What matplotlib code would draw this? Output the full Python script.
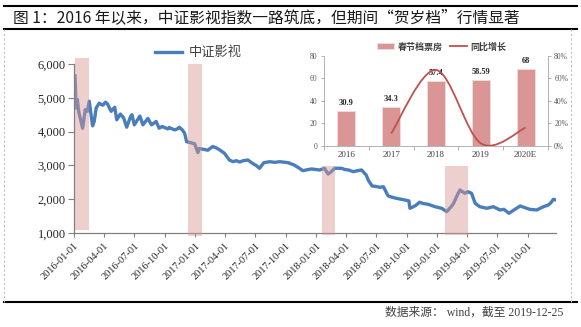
import matplotlib
matplotlib.use("Agg")
import matplotlib.pyplot as plt
import matplotlib.dates as mdates
import numpy as np
import pandas as pd
from matplotlib.patches import Rectangle
from matplotlib.lines import Line2D
from matplotlib.path import Path
from matplotlib.patches import PathPatch
from matplotlib.ticker import FuncFormatter, PercentFormatter

SERIF_CJK = ["Liberation Serif", "Noto Sans CJK SC"]
CJK = ["Noto Sans CJK SC", "DejaVu Sans"]
plt.rcParams["font.family"] = SERIF_CJK

# ---- 中证影视指数 (selected closes) ----
index_dates = [
    "2016-01-04", "2016-01-05", "2016-01-07", "2016-01-11", "2016-01-15", "2016-01-27",
    "2016-02-04", "2016-02-10", "2016-02-16", "2016-02-26", "2016-03-02", "2016-03-08",
    "2016-03-17", "2016-03-28", "2016-04-05", "2016-04-11", "2016-04-22", "2016-05-03",
    "2016-05-09", "2016-05-20", "2016-05-30", "2016-06-08", "2016-06-20", "2016-06-24",
    "2016-07-01", "2016-07-11", "2016-07-18", "2016-07-27", "2016-08-11", "2016-08-22",
    "2016-09-05", "2016-09-14", "2016-09-23", "2016-10-10", "2016-10-14", "2016-10-31",
    "2016-11-08", "2016-11-14", "2016-11-23", "2016-11-30", "2016-12-06", "2016-12-15",
    "2016-12-30", "2017-01-09", "2017-01-13", "2017-01-23", "2017-02-08", "2017-02-23",
    "2017-03-09", "2017-03-17", "2017-03-30", "2017-04-14", "2017-04-25", "2017-05-05",
    "2017-05-15", "2017-05-26", "2017-06-09", "2017-06-23", "2017-07-05", "2017-07-14",
    "2017-07-27", "2017-08-14", "2017-08-29", "2017-09-13", "2017-10-09", "2017-10-16",
    "2017-10-27", "2017-11-09", "2017-11-22", "2017-12-04", "2017-12-18", "2017-12-29",
    "2018-01-12", "2018-01-26", "2018-02-06", "2018-02-14", "2018-02-26", "2018-03-19",
    "2018-03-28", "2018-04-09", "2018-04-23", "2018-05-04", "2018-05-18", "2018-06-01",
    "2018-06-08", "2018-06-19", "2018-06-29", "2018-07-12", "2018-07-23", "2018-07-27",
    "2018-08-06", "2018-08-17", "2018-08-31", "2018-09-14", "2018-10-08", "2018-10-11",
    "2018-10-18", "2018-10-29", "2018-11-09", "2018-11-21", "2018-12-05", "2018-12-26",
    "2019-01-15", "2019-01-30", "2019-02-11", "2019-02-20", "2019-03-01", "2019-03-11",
    "2019-03-26", "2019-04-04", "2019-04-15", "2019-04-26", "2019-05-10", "2019-05-31",
    "2019-06-20", "2019-07-10", "2019-07-22", "2019-08-06", "2019-08-21", "2019-09-09",
    "2019-09-20", "2019-10-08", "2019-10-29", "2019-11-18", "2019-12-03", "2019-12-11",
    "2019-12-18", "2019-12-25",
]
index_values = [
    5650, 5400, 4700, 4950, 4600, 4100,
    4650, 4600, 4900, 4170, 4300, 4700,
    4840, 4780, 4870, 4820, 4600, 4720,
    4350, 4520, 4400, 4130, 4450, 4500,
    4200, 4350, 4460, 4200, 4390, 4200,
    4300, 4100, 4150, 4080, 4120, 4050,
    4080, 4130, 4050, 3950, 3700, 3680,
    3640, 3380, 3500, 3480, 3450, 3560,
    3500, 3450, 3360, 3160, 3110, 3140,
    3100, 3140, 3160, 3060, 2990, 2915,
    3080, 3110, 3090, 3110, 3080, 3050,
    3010, 2930, 2843, 2870, 2894, 2880,
    2864, 2915, 2746, 2800, 2915, 2915,
    2880, 2864, 2814, 2840, 2864, 2716,
    2550, 2390, 2380, 2352, 2370, 2293,
    2100, 2060, 2027, 2000, 1950, 1731,
    1760, 1820, 1910, 1870, 1850, 1778,
    1731, 1630, 1760, 1879, 2080, 2272,
    2175, 2222, 2175, 1879, 1778, 1731,
    1778, 1681, 1700, 1583, 1681, 1800,
    1760, 1700, 1681, 1778, 1828, 1900,
    1997, 1980,
]

# Spring-festival windows (start, end, low, high)
window_starts = ["2016-01-05", "2016-12-09", "2018-01-18", "2019-01-25"]
window_ends = ["2016-02-16", "2017-01-22", "2018-02-28", "2019-04-03"]
window_lows = [1089, 911, 941, 941]
window_highs = [6177, 6000, 6000, 6000]

# ---- 春节档票房 (亿元) and 同比增长 ----
years = ["2016", "2017", "2018", "2019", "2020E"]
box_office = [30.9, 34.3, 57.4, 58.59, 68]
growth_years = ["2017", "2018", "2019", "2020E"]
growth_pct = [11.0, 67.3, 2.1, 16.1]

quarter_ticks = pd.date_range("2016-01-01", "2019-10-01", freq="QS")

W, H = 581, 327
fig = plt.figure(figsize=(W / 100, H / 100), dpi=100)


def fx(px):
    return px / W


def fy(py):
    return 1 - py / H


BLUE = "#4A7EBB"
PINK = "#D99694"
RED = "#C0504D"
GRAY_TXT = "#404040"

# ---- main chart ----
ax = fig.add_axes([fx(74), fy(233), fx(556) - fx(74), fy(64) - fy(233)])
d = pd.to_datetime(index_dates)
ax.plot(d, index_values, color=BLUE, lw=2.4, solid_joinstyle="round", zorder=2,
        label="中证影视")
for s, e, lo, hi in zip(window_starts, window_ends, window_lows, window_highs):
    x0 = mdates.date2num(pd.Timestamp(s))
    x1 = mdates.date2num(pd.Timestamp(e))
    ax.add_patch(Rectangle((x0, lo), x1 - x0, hi - lo, facecolor=PINK, alpha=0.45,
                           edgecolor="none", zorder=3, clip_on=False))

ax.set_xlim(pd.Timestamp("2016-01-01"), pd.Timestamp("2019-12-26"))
ax.set_ylim(1000, 6000)
ax.set_yticks([1000, 2000, 3000, 4000, 5000, 6000])
ax.yaxis.set_major_formatter(FuncFormatter(lambda v, p: f"{v:,.0f}"))
ax.set_xticks(quarter_ticks)
ax.set_xticklabels([t.strftime("%Y-%m-%d") for t in quarter_ticks], rotation=45,
                   ha="right", va="top", rotation_mode="anchor")
for sp in ["top", "right"]:
    ax.spines[sp].set_visible(False)
for sp in ["left", "bottom"]:
    ax.spines[sp].set_color("#808080")
    ax.spines[sp].set_linewidth(0.9)
ax.tick_params(axis="y", direction="out", length=4, width=0.8, color="#808080",
               labelsize=9, labelcolor="#262626", pad=2)
ax.tick_params(axis="x", direction="out", length=3, width=0.8, color="#808080",
               labelsize=7.5, labelcolor="#262626", pad=3)
leg = ax.legend(loc="center", bbox_to_anchor=(0.258, 1.067), frameon=False,
                handlelength=2.1, handletextpad=0.5, prop={"family": CJK, "size": 9.5})
for t in leg.get_texts():
    t.set_color(GRAY_TXT)

# ---- inset panel ----
fig.add_artist(Rectangle((fx(300), fy(166)), fx(568) - fx(300), fy(30) - fy(166),
                         transform=fig.transFigure, facecolor="white", edgecolor="none",
                         zorder=1))
ax2 = fig.add_axes([fx(324), fy(145.7), fx(548) - fx(324), fy(55.7) - fy(145.7)],
                   zorder=2)
ax2.patch.set_alpha(0)
xs = np.arange(len(years))
bars = ax2.bar(xs, box_office, width=0.4, color=PINK, edgecolor="#F2DCDB",
               linewidth=0.6, label="春节档票房")
for x, v in zip(xs, box_office):
    ax2.annotate(f"{v:g}", (x, v), xytext=(0, 3), textcoords="offset points",
                 ha="center", va="bottom", fontsize=6, fontweight="bold",
                 color="#262626")
ax2.set_xlim(-0.5, len(years) - 0.5)
ax2.set_ylim(0, 80)
ax2.set_yticks([0, 20, 40, 60, 80])
ax2.set_xticks(xs)
ax2.set_xticklabels(years)
ax2.set_xticks(np.arange(-0.5, len(years)), minor=True)
ax2.tick_params(axis="x", which="major", length=0, labelsize=6.5, labelcolor="#404040",
                pad=4)
ax2.tick_params(axis="x", which="minor", length=3, width=0.6, color="#A6A6A6")
ax2.tick_params(axis="y", length=2.5, width=0.6, color="#A6A6A6", labelsize=5.5,
                labelcolor="#595959", pad=2)
for sp in ["top", "right"]:
    ax2.spines[sp].set_visible(False)
for sp in ["left", "bottom"]:
    ax2.spines[sp].set_color("#A6A6A6")
    ax2.spines[sp].set_linewidth(0.6)

ax3 = ax2.twinx()
ax3.set_ylim(0, 80)
ax3.set_yticks([0, 20, 40, 60, 80])
ax3.yaxis.set_major_formatter(PercentFormatter(decimals=0))
ax3.tick_params(axis="y", length=2.5, width=0.6, color="#A6A6A6", labelsize=5.5,
                labelcolor="#595959", pad=2)
for sp in ["top", "left", "bottom"]:
    ax3.spines[sp].set_visible(False)
ax3.spines["right"].set_color("#A6A6A6")
ax3.spines["right"].set_linewidth(0.6)

# smoothed growth curve (Catmull-Rom as cubic Bezier segments)
gx = np.array([years.index(y) for y in growth_years], dtype=float)
gy = np.array(growth_pct, dtype=float)
pts = np.column_stack([gx, gy])
verts = [tuple(pts[0])]
codes = [Path.MOVETO]
n = len(pts)
for i in range(n - 1):
    p0 = pts[i - 1] if i > 0 else pts[i]
    p1, p2 = pts[i], pts[i + 1]
    p3 = pts[i + 2] if i + 2 < n else pts[i + 1]
    c1 = p1 + (p2 - p0) / 6
    c2 = p2 - (p3 - p1) / 6
    verts += [tuple(c1), tuple(c2), tuple(p2)]
    codes += [Path.CURVE4] * 3
ax3.add_patch(PathPatch(Path(verts, codes), facecolor="none", edgecolor=RED, lw=1.3))
ax3.plot([], [], color=RED, lw=1.3, label="同比增长")

handles = [bars, ax3.get_lines()[0]]
leg2 = ax2.legend(handles, ["春节档票房", "同比增长"], loc="center",
                  bbox_to_anchor=(0.525, 1.1), ncol=2, frameon=False,
                  handlelength=1.9, handleheight=0.6, handletextpad=0.4,
                  columnspacing=0.8, prop={"family": CJK, "size": 6.5, "weight": "bold"})
for t in leg2.get_texts():
    t.set_color(GRAY_TXT)

# ---- title, rules and source note ----
fig.add_artist(Line2D([fx(4), fx(577)], [fy(6), fy(6)], transform=fig.transFigure,
                      color="black", lw=1.5, zorder=5))
fig.add_artist(Line2D([fx(4), fx(577)], [fy(29), fy(29)], transform=fig.transFigure,
                      color="black", lw=1.5, zorder=5))
fig.add_artist(Line2D([fx(4), fx(577)], [fy(302), fy(302)], transform=fig.transFigure,
                      color="black", lw=1.5, zorder=5))
for xv in (4, 571):
    fig.add_artist(Line2D([fx(xv), fx(xv)], [fy(29), fy(302)], transform=fig.transFigure,
                          color="#BFBFBF", lw=0.8, linestyle=(0, (2, 2)), zorder=5))

fig.text(fx(13), fy(17.5), "图 1：2016 年以来，中证影视指数一路筑底，但期间“贺岁档”行情显著",
         ha="left", va="center", fontsize=11.3, color="#1A1A1A",
         family=CJK)
fig.text(fx(563), fy(313), "数据来源： wind，截至 2019-12-25", ha="right", va="center",
         fontsize=8.5, color="#404040", family=SERIF_CJK)

fig.savefig("out.png", dpi=100)
